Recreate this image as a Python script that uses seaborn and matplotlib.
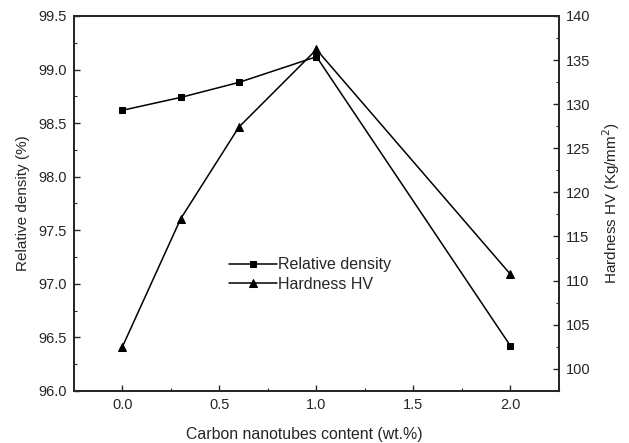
import matplotlib
matplotlib.use("Agg")
import matplotlib.pyplot as plt
from matplotlib.ticker import MultipleLocator
import seaborn as sns
import pandas as pd

cnt_content = [0.0, 0.3, 0.6, 1.0, 2.0]
relative_density = [98.62, 98.74, 98.88, 99.12, 96.42]
hardness_hv = [102.5, 117.0, 127.4, 136.2, 110.7]

sns.set_style("ticks")
plt.rcParams['font.family'] = ['Liberation Sans', 'DejaVu Sans']

fig = plt.figure(figsize=(6.29, 4.43), dpi=100)
ax = fig.add_axes([0.1176, 0.1174, 0.7711, 0.8465])
ax2 = ax.twinx()

df = pd.DataFrame({"x": cnt_content, "rd": relative_density, "hv": hardness_hv})

sns.lineplot(data=df, x="x", y="rd", ax=ax, color="black", marker="s",
             markersize=5, linewidth=1.1, markeredgecolor="black",
             label="Relative density", legend=False)
sns.lineplot(data=df, x="x", y="hv", ax=ax2, color="black", marker="^",
             markersize=6, linewidth=1.1, markeredgecolor="black",
             label="Hardness HV", legend=False)

ax.set_xlim(-0.25, 2.25)
ax.set_ylim(96.0, 99.5)
ax2.set_ylim(97.47, 140)

ax.xaxis.set_major_locator(MultipleLocator(0.5))
ax.xaxis.set_minor_locator(MultipleLocator(0.25))
ax.yaxis.set_major_locator(MultipleLocator(0.5))
ax.yaxis.set_minor_locator(MultipleLocator(0.25))
ax2.yaxis.set_major_locator(MultipleLocator(5))
ax2.yaxis.set_minor_locator(MultipleLocator(2.5))

ax.xaxis.set_major_formatter(matplotlib.ticker.FormatStrFormatter('%.1f'))
ax.yaxis.set_major_formatter(matplotlib.ticker.FormatStrFormatter('%.1f'))

for a in (ax, ax2):
    a.tick_params(which='major', direction='in', length=4, width=1.0,
                  labelsize=10.5, pad=5)
    a.tick_params(which='minor', direction='in', length=2.5, width=0.8)
    for s in a.spines.values():
        s.set_linewidth(1.3)
        s.set_visible(True)
ax.tick_params(axis='x', which='both', top=False)
ax2.tick_params(axis='x', which='both', top=False, bottom=False)

ax.set_xlabel("Carbon nanotubes content (wt.%)", fontsize=11.4)
ax.xaxis.set_label_coords(0.474, -0.095)
ax.set_ylabel("Relative density (%)", fontsize=11, labelpad=6)
ax2.set_ylabel("Hardness HV (Kg/mm$^2$)", fontsize=11, labelpad=7)

h1, l1 = ax.get_legend_handles_labels()
h2, l2 = ax2.get_legend_handles_labels()
leg = ax.legend(h1 + h2, l1 + l2, loc='upper left', bbox_to_anchor=(0.303, 0.378),
                frameon=False, fontsize=11.5, handlelength=3.0,
                handletextpad=0.1, labelspacing=0.3, borderpad=0)

fig.savefig("out.png", dpi=100)
